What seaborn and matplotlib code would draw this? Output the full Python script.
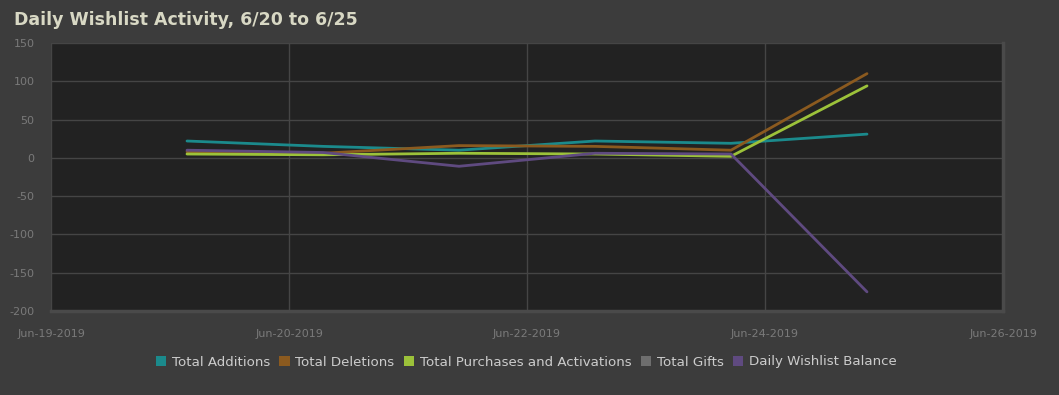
import matplotlib
matplotlib.use("Agg")
import matplotlib.pyplot as plt
import matplotlib.patches as mpatches
import seaborn as sns
import pandas as pd
import numpy as np

# ---- data ----
days = [0, 1, 2, 3, 4, 5]  # 6/20 .. 6/25
total_additions = [22, 15, 10, 22, 19, 31]
total_deletions = [8, 6, 16, 15, 10, 110]
total_purchases = [5, 4, 6, 5, 2, 94]
total_gifts = [np.nan, np.nan, np.nan, np.nan, np.nan, np.nan]  # no visible line in the reference
daily_balance = [10, 7, -11, 6, 5, -175]

series_names = ["Total Additions", "Total Deletions", "Total Purchases and Activations",
                "Total Gifts", "Daily Wishlist Balance"]
series_values = [total_additions, total_deletions, total_purchases, total_gifts, daily_balance]
colors = ["#1b8a8c", "#8b5a1f", "#9cc23a", "#6e6e6e", "#5f4a80"]

x_tick_pos = [-1, 0.75, 2.5, 4.25, 6]
x_tick_labels = ["Jun-19-2019", "Jun-20-2019", "Jun-22-2019", "Jun-24-2019", "Jun-26-2019"]
y_ticks = [-200, -150, -100, -50, 0, 50, 100, 150]

rows = []
for name, vals in zip(series_names, series_values):
    for d, v in zip(days, vals):
        rows.append({"day": d, "value": v, "series": name})
df = pd.DataFrame(rows).dropna()

sns.set_theme(style="dark")
plt.rcParams['font.family'] = ['DejaVu Sans']
plt.rcParams['axes.unicode_minus'] = False

fig = plt.figure(figsize=(10.59, 3.95), dpi=100, facecolor="#3c3c3c")
ax = fig.add_axes([51/1059, 1-311/395, 952/1059, 268/395])
ax.set_facecolor("#222222")

present = [n for n in series_names if n in set(df["series"])]
pal = {n: c for n, c in zip(series_names, colors)}
sns.lineplot(data=df, x="day", y="value", hue="series", hue_order=present,
             palette=pal, linewidth=2, ax=ax, legend=False, zorder=3)

ax.set_xlim(-1, 6)
ax.set_ylim(-200, 150)
ax.set_xticks(x_tick_pos)
ax.set_xticklabels(x_tick_labels)
ax.set_yticks(y_ticks)
ax.grid(True, color="#454545", linewidth=1, zorder=0)
ax.tick_params(axis="both", length=0, colors="#7a7a7a", labelsize=8)
ax.tick_params(axis="x", pad=13)
ax.tick_params(axis="y", pad=12)
ax.set_xlabel("")
ax.set_ylabel("")
for s in ["top", "left"]:
    ax.spines[s].set_visible(False)
for s in ["right", "bottom"]:
    ax.spines[s].set_visible(True)
    ax.spines[s].set_color("#4a4a4a")
    ax.spines[s].set_linewidth(2.5)

fig.text(14/1059, 1-20/395, "Daily Wishlist Activity, 6/20 to 6/25", color="#d8d8c4",
         fontsize=12.5, fontweight="bold", va="center", ha="left")

handles = [mpatches.Patch(facecolor=c, edgecolor="none", label=n) for n, c in zip(series_names, colors)]
leg = fig.legend(handles=handles, loc="center", bbox_to_anchor=(526/1059, 1-362/395), ncol=5,
                 frameon=False, fontsize=9.6, handlelength=0.8, handleheight=0.8,
                 handletextpad=0.4, columnspacing=0.7, labelcolor="#cccccc")

fig.savefig("out.png", dpi=100, facecolor=fig.get_facecolor())
